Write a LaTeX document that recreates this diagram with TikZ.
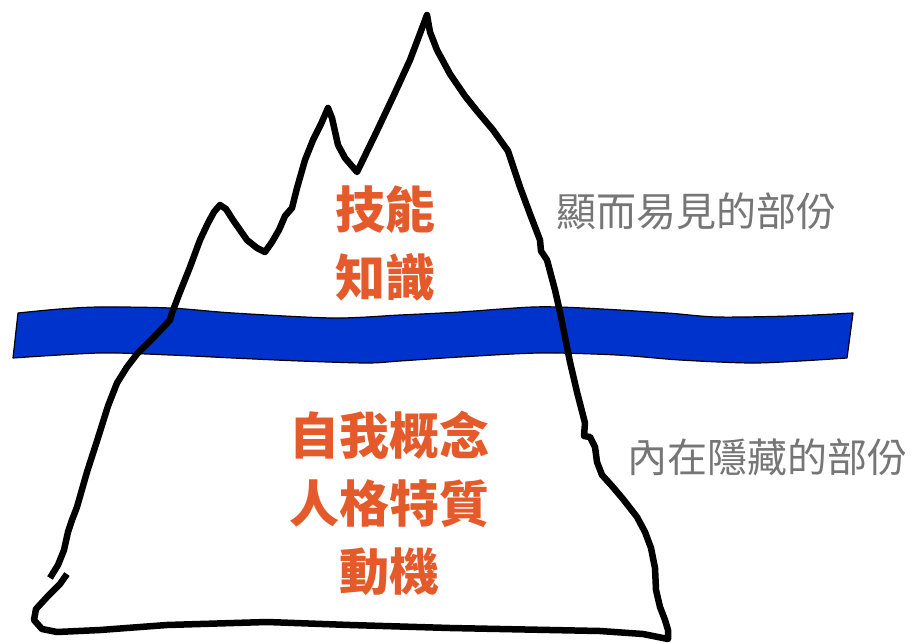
\documentclass[tikz,border=0pt]{standalone}
\usepackage{fontspec}
\newfontfamily\cjk{Noto Sans CJK TC}
\definecolor{seablue}{RGB}{0,51,204}
\definecolor{labelorange}{RGB}{229,90,43}
\definecolor{notegray}{RGB}{118,118,118}
\begin{document}
\begin{tikzpicture}[x=1pt,y=-1pt,
  bergline/.style={line width=6.5pt,line join=round,line cap=butt,black},
  waterband/.style={fill=seablue,draw=black,line width=1.2pt,line join=round},
  bigword/.style={text=labelorange,font=\cjk\bfseries\fontsize{50}{68}\selectfont,align=center,inner sep=0pt},
  sideword/.style={text=notegray,font=\cjk\fontsize{40}{44}\selectfont,inner sep=0pt}]
\useasboundingbox (0,0) rectangle (915,644);
\fill[white] (0,0) rectangle (915,644);

% water surface band
\draw[waterband] plot[smooth,tension=0.5] coordinates {(18,313) (60,309) (100,307) (170,308) (233,313) (333,318) (400,315) (460,312) (533,307) (583,308) (667,313) (717,317) (790,316) (853,313)}
  -- plot[smooth,tension=0.5] coordinates {(847,358) (800,361) (750,363) (680,360) (617,355) (540,353) (460,357) (400,361) (367,363) (300,361) (233,358) (170,355) (100,353) (13,358)}
  -- cycle;

% iceberg outline
\draw[bergline] (50,578) -- (58,565) -- (64,550) -- (68,532) -- (72,520) -- (77,507) -- (87,472) -- (97,441) -- (108,406) -- (117,383) -- (127,367) -- (137,354) -- (155,336) -- (170,320) -- (172,313) -- (180,292) -- (190,267) -- (200,240) -- (208,223) -- (214,212) -- (220,205) -- (226,209) -- (233,220) -- (247,240) -- (257,248) -- (265,252) -- (272,242) -- (279,230) -- (285,216) -- (292,208) -- (297,188) -- (305,160) -- (313,140) -- (321,124) -- (328,108) -- (332,118) -- (338,145) -- (345,158) -- (357,172) -- (375,135) -- (393,97) -- (410,60) -- (427,15) -- (430,32) -- (437,50) -- (450,74) -- (465,96) -- (477,111) -- (493,130) -- (508,151) -- (520,187) -- (530,214) -- (540,240) -- (541,251) -- (547,260) -- (555,290) -- (560,312) -- (565,337) -- (570,362) -- (577,392) -- (585,423) -- (584,436) -- (590,437) -- (595,447) -- (597,462) -- (602,475) -- (612,486) -- (623,499) -- (637,517) -- (645,532) -- (651,548) -- (655,568) -- (656,590) -- (660,607) -- (665,620) -- (668,630) -- (668,639)
  -- (643,634) -- (600,631) -- (550,630) -- (450,628) -- (350,625) -- (267,622) -- (167,625) -- (100,630) -- (57,632) -- (42,629) -- (34,620) -- (36,609) -- (48,596) -- (60,584) -- (67,574);

% labels inside the iceberg
\node[bigword] (tip) at (385,243) {技能\\知識};
\node[bigword] (base) at (389,503) {自我概念\\人格特質\\動機};

% side notes
\node[sideword] (visible) at (696,211) {顯而易見的部份};
\node[sideword] (hidden) at (767,457) {內在隱藏的部份};
\end{tikzpicture}
\end{document}
